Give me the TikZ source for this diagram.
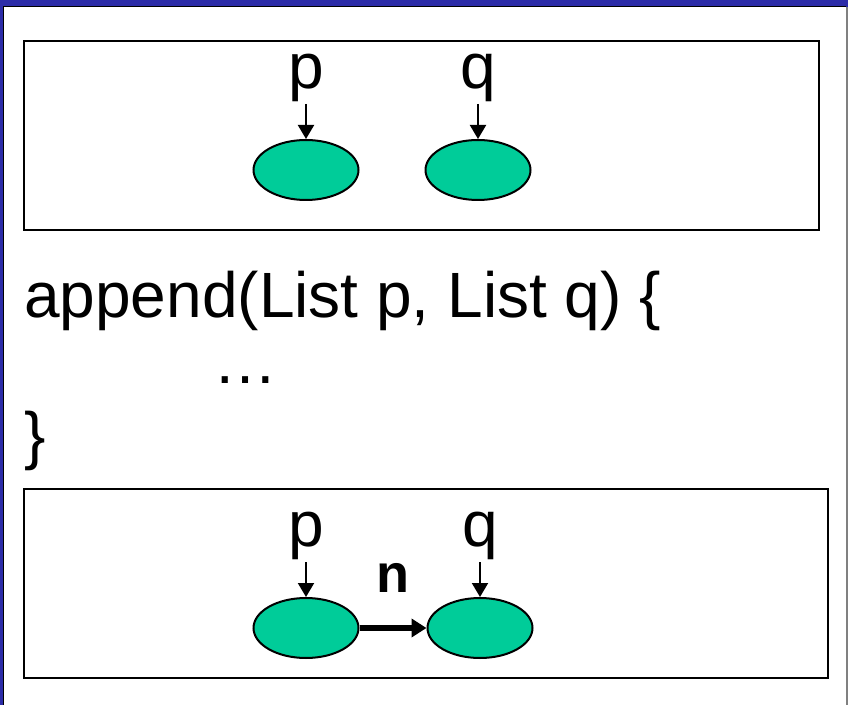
\documentclass[tikz,border=0pt]{standalone}
\usepackage{fontspec}
\setmainfont{Liberation Sans}
\usetikzlibrary{arrows.meta,positioning,shapes.geometric}
\definecolor{band}{HTML}{2C2CA8}
\definecolor{cell}{HTML}{00CC99}
\tikzset{
  big/.style={font=\fontsize{64}{70}\selectfont,inner sep=0pt},
  cellnode/.style={ellipse,draw=black,line width=2pt,fill=cell,minimum width=105pt,minimum height=60pt,inner sep=0pt},
  heap/.style={draw=black,line width=2pt,minimum width=795pt,minimum height=189pt,inner sep=0pt},
  ptr/.style={-{Triangle[length=14pt,width=16pt]},line width=2pt,shorten <=2pt},
  nxt/.style={-{Triangle[length=15pt,width=18pt]},line width=6pt},
}

\begin{document}
\begin{tikzpicture}[x=1pt,y=-1pt,node distance=37pt]
% slide frame
\fill[band] (0,0) rectangle (848,705);
\fill[white] (3,7) rectangle (846,705);
\fill[gray] (846,7) rectangle (848,705);
\draw[black,line width=1pt] (3,6.5) -- (846,6.5);
\draw[black,line width=1pt] (3.5,7) -- (3.5,705);
\useasboundingbox (0,0) rectangle (848,705);
% before the call
\node[heap] (before) at (421.5,135.5) {};
\node[cellnode] (p1) at (306,170) {};
\node[cellnode] (q1) at (478,170) {};
\node[big,above=of p1] (lp1) {p};
\node[big,above=of q1] (lq1) {q};
\draw[ptr] (lp1) -- (p1);
\draw[ptr] (lq1) -- (q1);
% the code
\node[big,anchor=base west] (sig) at (24,317) {append(List p, List q) \{};
\node[big,anchor=base] (body) at (245,383) {…};
\node[big,anchor=base west] (close) at (24,457) {\}};
% after the call
\node[heap,minimum width=804pt] (after) at (426,583.5) {};
\node[cellnode] (p2) at (306,628) {};
\node[cellnode] (q2) at (480,628) {};
\node[big,above=of p2] (lp2) {p};
\node[big,above=of q2] (lq2) {q};
\draw[ptr] (lp2) -- (p2);
\draw[ptr] (lq2) -- (q2);
\draw[nxt] (p2) -- node[above=33pt,inner sep=0pt,font=\fontsize{54}{60}\selectfont\bfseries] (n) {n} (q2);
\end{tikzpicture}
\end{document}
